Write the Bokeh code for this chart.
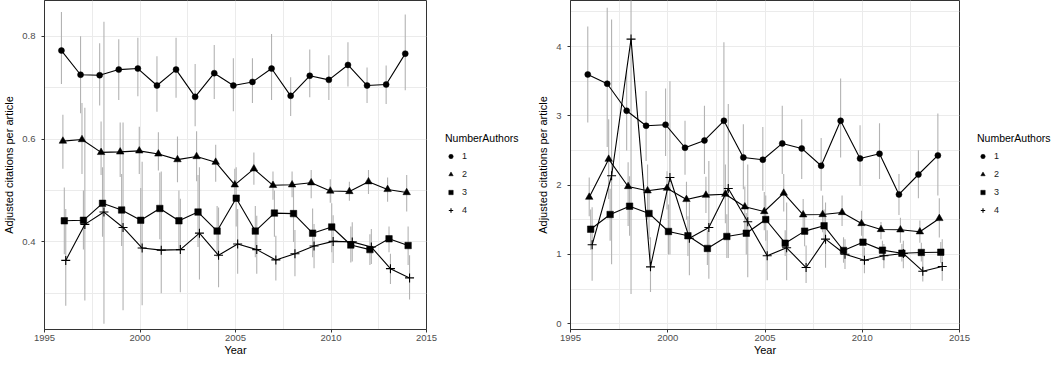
from bokeh.plotting import figure
from bokeh.models import ColumnDataSource, Range1d, SingleIntervalTicker, Legend, LegendItem, NumeralTickFormatter
from bokeh.layouts import row
from bokeh.transform import dodge
from bokeh.embed import file_html
from bokeh.resources import INLINE

years = list(range(1996, 2015))
groups = ["1", "2", "3", "4"]
x_ticks_interval = 5

# ---------- Left panel ----------
left_1 = [0.772, 0.725, 0.724, 0.735, 0.737, 0.704, 0.735, 0.682, 0.728, 0.704, 0.711, 0.737, 0.684, 0.723, 0.715, 0.744, 0.704, 0.706, 0.766]
left_1_lo = [0.707, 0.650, 0.665, 0.676, 0.683, 0.653, 0.680, 0.625, 0.678, 0.654, 0.670, 0.676, 0.645, 0.681, 0.676, 0.702, 0.670, 0.668, 0.695]
left_1_hi = [0.847, 0.800, 0.786, 0.794, 0.797, 0.761, 0.797, 0.746, 0.783, 0.757, 0.757, 0.804, 0.720, 0.774, 0.763, 0.788, 0.739, 0.743, 0.842]
left_2 = [0.596, 0.599, 0.574, 0.575, 0.577, 0.571, 0.560, 0.566, 0.555, 0.511, 0.542, 0.510, 0.511, 0.515, 0.499, 0.498, 0.517, 0.502, 0.496]
left_2_lo = [0.542, 0.532, 0.530, 0.526, 0.532, 0.539, 0.516, 0.518, 0.517, 0.480, 0.511, 0.482, 0.487, 0.485, 0.476, 0.480, 0.493, 0.478, 0.459]
left_2_hi = [0.647, 0.670, 0.634, 0.632, 0.624, 0.613, 0.605, 0.615, 0.589, 0.542, 0.574, 0.537, 0.537, 0.540, 0.522, 0.517, 0.540, 0.525, 0.530]
left_3 = [0.441, 0.442, 0.475, 0.462, 0.442, 0.465, 0.441, 0.458, 0.421, 0.485, 0.421, 0.456, 0.455, 0.417, 0.429, 0.394, 0.385, 0.406, 0.393]
left_3_lo = [0.376, 0.385, 0.410, 0.392, 0.385, 0.405, 0.385, 0.390, 0.370, 0.430, 0.370, 0.410, 0.400, 0.370, 0.380, 0.360, 0.355, 0.380, 0.355]
left_3_hi = [0.506, 0.500, 0.545, 0.532, 0.505, 0.535, 0.500, 0.530, 0.470, 0.545, 0.470, 0.500, 0.510, 0.465, 0.475, 0.430, 0.415, 0.430, 0.430]
left_4 = [0.364, 0.434, 0.458, 0.428, 0.388, 0.384, 0.385, 0.417, 0.374, 0.396, 0.385, 0.365, 0.377, 0.392, 0.401, 0.400, 0.390, 0.348, 0.330]
left_4_lo = [0.276, 0.286, 0.241, 0.267, 0.277, 0.300, 0.302, 0.327, 0.312, 0.338, 0.338, 0.325, 0.333, 0.349, 0.359, 0.362, 0.357, 0.318, 0.288]
left_4_hi = [0.464, 0.661, 0.828, 0.632, 0.556, 0.537, 0.484, 0.545, 0.467, 0.464, 0.451, 0.412, 0.423, 0.435, 0.452, 0.438, 0.425, 0.377, 0.374]

# ---------- Right panel ----------
right_1 = [3.597, 3.463, 3.074, 2.857, 2.872, 2.540, 2.645, 2.929, 2.400, 2.367, 2.602, 2.530, 2.280, 2.929, 2.385, 2.453, 1.866, 2.154, 2.429]
right_1_lo = [2.905, 2.550, 2.500, 2.350, 2.420, 2.150, 2.160, 1.800, 1.940, 1.920, 2.160, 2.090, 1.920, 2.400, 1.990, 2.090, 1.570, 1.810, 1.850]
right_1_hi = [4.290, 4.560, 3.650, 3.360, 3.395, 2.930, 3.146, 4.060, 2.880, 2.840, 3.146, 2.950, 2.680, 3.540, 2.866, 2.895, 2.160, 2.505, 3.035]
right_2 = [1.827, 2.375, 1.981, 1.919, 1.957, 1.794, 1.856, 1.870, 1.688, 1.620, 1.885, 1.573, 1.577, 1.606, 1.447, 1.361, 1.356, 1.328, 1.520]
right_2_lo = [1.550, 1.800, 1.410, 1.500, 1.650, 1.500, 1.600, 1.450, 1.350, 1.350, 1.620, 1.340, 1.320, 1.410, 1.270, 1.220, 1.170, 1.170, 1.245]
right_2_hi = [2.110, 2.950, 2.330, 2.300, 2.200, 2.050, 2.120, 2.300, 1.980, 1.900, 2.160, 1.800, 1.850, 1.850, 1.630, 1.470, 1.530, 1.490, 1.810]
right_3 = [1.365, 1.577, 1.697, 1.592, 1.332, 1.270, 1.087, 1.260, 1.307, 1.505, 1.163, 1.337, 1.414, 1.058, 1.178, 1.063, 1.019, 1.029, 1.033]
right_3_lo = [1.070, 1.200, 1.270, 1.220, 1.000, 0.980, 0.850, 0.950, 1.000, 1.200, 0.980, 1.120, 1.180, 0.880, 0.970, 0.920, 0.900, 0.900, 0.880]
right_3_hi = [1.650, 1.950, 2.130, 1.950, 1.720, 1.550, 1.350, 1.580, 1.600, 1.850, 1.350, 1.550, 1.650, 1.250, 1.400, 1.200, 1.150, 1.170, 1.180]
right_4 = [1.140, 2.136, 4.107, 0.822, 2.111, 1.235, 1.390, 1.952, 1.472, 0.981, 1.097, 0.812, 1.221, 1.004, 0.918, 0.981, 1.014, 0.759, 0.827]
right_4_lo = [0.620, 0.860, 0.430, 0.460, 1.000, 0.700, 0.650, 0.950, 0.670, 0.630, 0.630, 0.590, 0.810, 0.790, 0.730, 0.800, 0.800, 0.610, 0.620]
right_4_hi = [1.680, 4.390, 7.700, 1.250, 3.500, 1.750, 2.350, 3.170, 2.300, 1.350, 1.750, 1.130, 1.750, 1.220, 1.100, 1.150, 1.200, 0.970, 1.220]

FONT = "Liberation Sans"
DODGE = [-0.1125, -0.0375, 0.0375, 0.1125]
MARKERS = [("circle", 6), ("triangle", 7.5), ("square", 6.5), ("cross", 9)]
HEIGHT = 357
FRAME_H = 329


def style_marker(m):
    return dict(fill_color="black", line_color="black",
                line_width=1.1 if m == "cross" else 0.5)


def make_panel(vals, los, his, y_start, y_end, y_interval, frame_w, border_left, border_right, fmt):
    p = figure(frame_width=frame_w, frame_height=FRAME_H, output_backend="svg",
               toolbar_location=None, x_range=Range1d(1995, 2015),
               y_range=Range1d(y_start, y_end),
               min_border_left=border_left, min_border_top=0, min_border_bottom=28,
               min_border_right=border_right, background_fill_color="white",
               border_fill_color="white")
    p.outline_line_color = "#333333"
    p.outline_line_width = 1
    p.xaxis.ticker = SingleIntervalTicker(interval=x_ticks_interval, num_minor_ticks=2)
    p.yaxis.ticker = SingleIntervalTicker(interval=y_interval, num_minor_ticks=2)
    p.xgrid.grid_line_color = None
    p.ygrid.grid_line_color = None
    p.xgrid.minor_grid_line_color = "#ebebeb"
    p.ygrid.minor_grid_line_color = "#ebebeb"
    p.xgrid.minor_grid_line_width = 1
    p.ygrid.minor_grid_line_width = 1
    for ax in (p.xaxis[0], p.yaxis[0]):
        ax.axis_line_color = "#333333"
        ax.major_tick_line_color = "#333333"
        ax.major_tick_out = 3
        ax.major_tick_in = 0
        ax.minor_tick_line_color = None
        ax.major_label_text_font = FONT
        ax.major_label_text_font_size = "9.5px"
        ax.major_label_text_color = "#4d4d4d"
        ax.axis_label_text_font = FONT
        ax.axis_label_text_font_size = "11px"
        ax.axis_label_text_font_style = "normal"
        ax.axis_label_text_color = "black"
    p.xaxis.axis_label = "Year"
    p.xaxis.major_label_standoff = 1
    p.xaxis.axis_label_standoff = 0
    p.yaxis.axis_label = "Adjusted citations per article"
    p.yaxis.major_label_standoff = 5
    p.yaxis.axis_label_standoff = 4
    if fmt:
        p.yaxis.formatter = NumeralTickFormatter(format="0.0")

    for i in range(4):
        src = ColumnDataSource(dict(year=years, v=vals[i], lo=los[i], hi=his[i]))
        p.segment(x0=dodge("year", DODGE[i]), x1=dodge("year", DODGE[i]),
                  y0="lo", y1="hi", source=src, line_color="#b3b3b3", line_width=1.1)
    for i in range(4):
        src = ColumnDataSource(dict(year=years, v=vals[i]))
        p.line(x=dodge("year", DODGE[i]), y="v", source=src, line_color="black", line_width=1.1)
    for i in range(4):
        src = ColumnDataSource(dict(year=years, v=vals[i]))
        m, s = MARKERS[i]
        p.scatter(x=dodge("year", DODGE[i]), y="v", source=src, marker=m, size=s, **style_marker(m))
    return p


def make_legend_fig(width, x_off):
    f = figure(width=width, height=HEIGHT, output_backend="svg", toolbar_location=None,
               x_range=Range1d(0, 1), y_range=Range1d(0, 1),
               min_border=0, x_axis_type=None, y_axis_type=None,
               background_fill_color="white", border_fill_color="white")
    f.outline_line_color = None
    f.grid.visible = False
    rs = []
    for i, g in enumerate(groups):
        m, s = MARKERS[i]
        rs.append(f.scatter(x=[-5], y=[-5], marker=m, size=s, **style_marker(m)))
    legend = Legend(items=[LegendItem(label=g, renderers=[rs[i]]) for i, g in enumerate(groups)],
                    title="NumberAuthors", location=(x_off, 109))
    legend.title_text_font = FONT
    legend.title_text_font_size = "10.5px"
    legend.title_text_font_style = "normal"
    legend.title_text_color = "black"
    legend.title_standoff = 3
    legend.label_text_font = FONT
    legend.label_text_font_size = "9px"
    legend.label_text_color = "#1a1a1a"
    legend.glyph_width = 11
    legend.glyph_height = 18
    legend.label_height = 18
    legend.label_standoff = 6
    legend.spacing = 0
    legend.padding = 0
    legend.margin = 0
    legend.border_line_color = None
    legend.background_fill_alpha = 0
    f.add_layout(legend, "center")
    return f


p1 = make_panel([left_1, left_2, left_3, left_4],
                [left_1_lo, left_2_lo, left_3_lo, left_4_lo],
                [left_1_hi, left_2_hi, left_3_hi, left_4_hi],
                0.2297, 0.8693, 0.2, 382, 39, 12, True)
l1 = make_legend_fig(89, 7)
p2 = make_panel([right_1, right_2, right_3, right_4],
                [right_1_lo, right_2_lo, right_3_lo, right_4_lo],
                [right_1_hi, right_2_hi, right_3_hi, right_4_hi],
                -0.082, 4.664, 1, 389, 43, 12, False)
l2 = make_legend_fig(82, 6)

layout = row(p1, l1, p2, l2, spacing=0)
open("out.html", "w").write(file_html(layout, INLINE))
